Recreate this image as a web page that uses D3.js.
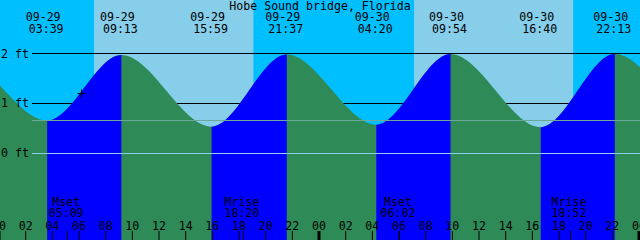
<!DOCTYPE html>
<html>
<head>
<meta charset="utf-8">
<script src="https://cdn.jsdelivr.net/npm/d3@7"></script>
<style>
  body { margin: 0; background: #fff; }
  svg { display: block; }
  text { font-family: "DejaVu Sans Mono", monospace; font-size: 11.6px; fill: #000; }
</style>
</head>
<body>
<div id="root"></div>
<script>
// tide extremes (the first two and last two are off-screen estimates so the curve runs to the edges)
const tideStamps = ["09-28 15:20", "09-28 20:55", "09-29 03:39", "09-29 09:13", "09-29 15:59", "09-29 21:37",
                    "09-30 04:20", "09-30 09:54", "09-30 16:40", "09-30 22:13", "10-01 04:55", "10-01 10:30"];
const tideHeights = [0.55, 1.95, 0.64, 1.96, 0.52, 1.97, 0.56, 1.98, 0.51, 1.98, 0.62, 1.98];

// sun up periods
const sunRise = ["09-29 07:10", "09-30 07:10"];
const sunSet = ["09-29 19:07", "09-30 19:06"];

// moon events
const moonNames = ["Mset", "Mrise", "Mset", "Mrise"];
const moonStamps = ["09-29 05:09", "09-29 18:20", "09-30 06:02", "09-30 18:52"];

// y grid
const ftLevels = [2, 1, 0];
const markLevel = 0.65;

// now marker
const nowStamp = "09-29 06:11";
const nowHeight = 1.2;

const title = "Hobe Sound bridge, Florida";

const w = 640;
const h = 240;
const parse = d3.utcParse("%m-%d %H:%M");
const tides = tideStamps.map((s, i) => ({ stamp: s, t: parse(s), v: tideHeights[i] }));

const x = d3.scaleUtc()
    .domain([parse("09-29 00:00"), parse("10-01 00:00")])
    .range([-1.5, 638.5]);

const y = d3.scaleLinear()
    .domain([0, 2])
    .range([152.5, 53]);

const svg = d3.select("#root")
    .append("svg")
    .attr("width", w)
    .attr("height", h);

// night background, then day bands
svg.append("rect")
    .attr("width", w)
    .attr("height", h)
    .attr("fill", "#00bfff");

svg.selectAll(".day")
    .data(sunRise)
    .enter()
    .append("rect")
    .attr("class", "day")
    .attr("x", (d, i) => x(parse(d)))
    .attr("y", 0)
    .attr("width", (d, i) => x(parse(sunSet[i])) - x(parse(d)))
    .attr("height", h)
    .attr("fill", "#87ceeb");

// black level lines sit behind the water
svg.selectAll(".level")
    .data(ftLevels.filter(d => d > 0))
    .enter()
    .append("line")
    .attr("x1", 32)
    .attr("x2", w)
    .attr("y1", d => Math.round(y(d)) + 0.5)
    .attr("y2", d => Math.round(y(d)) + 0.5)
    .attr("stroke", "#000")
    .attr("stroke-width", 1);

// water area
const area = d3.area()
    .x(d => x(d.t))
    .y0(h)
    .y1(d => y(d.v))
    .curve(d3.curveMonotoneX);

svg.append("clipPath")
    .attr("id", "water")
    .append("path")
    .attr("d", area(tides));

const water = svg.append("g").attr("clip-path", "url(#water)");

water.append("rect")
    .attr("width", w)
    .attr("height", h)
    .attr("fill", "#2e8b57");

// rising tide: from each low to the next high
const rising = tides.slice(0, -1)
    .map((d, i) => [d, tides[i + 1]])
    .filter(p => p[1].v > p[0].v);

water.selectAll(".rise")
    .data(rising)
    .enter()
    .append("rect")
    .attr("x", d => x(d[0].t))
    .attr("y", 0)
    .attr("width", d => x(d[1].t) - x(d[0].t))
    .attr("height", h)
    .attr("fill", "#0000ff");

// lines drawn over the water
svg.append("line")
    .attr("x1", 32).attr("x2", w)
    .attr("y1", Math.round(y(markLevel)) + 0.5)
    .attr("y2", Math.round(y(markLevel)) + 0.5)
    .attr("stroke", "#6ca89a");

svg.append("line")
    .attr("x1", 32).attr("x2", w)
    .attr("y1", Math.round(y(0)) + 0.5)
    .attr("y2", Math.round(y(0)) + 0.5)
    .attr("stroke", "#8ccfe8");

// ft labels
svg.selectAll(".ft")
    .data(ftLevels)
    .enter()
    .append("text")
    .attr("x", 1)
    .attr("y", d => y(d) + 4.5)
    .text(d => d + " ft");

// now marker
const nx = Math.round(x(parse(nowStamp))) + 0.5;
const ny = Math.round(y(nowHeight)) + 0.5;
svg.append("path")
    .attr("d", `M${nx - 4},${ny}H${nx + 4}M${nx},${ny - 4}V${ny + 4}`)
    .attr("stroke", "#000");

// title
svg.append("text")
    .attr("x", w / 2)
    .attr("y", 10)
    .attr("text-anchor", "middle")
    .text(title);

// tide labels
const shown = tides.filter(d => d.t >= x.domain()[0] && d.t <= x.domain()[1]);
svg.selectAll(".tdate")
    .data(shown)
    .enter()
    .append("text")
    .attr("x", d => x(d.t) - 4)
    .attr("y", 21)
    .attr("text-anchor", "middle")
    .text(d => d.stamp.slice(0, 5));

svg.selectAll(".ttime")
    .data(shown)
    .enter()
    .append("text")
    .attr("x", d => x(d.t) - 1)
    .attr("y", 33)
    .attr("text-anchor", "middle")
    .text(d => d.stamp.slice(6));

// moon labels
svg.selectAll(".mname")
    .data(moonStamps)
    .enter()
    .append("text")
    .attr("x", d => x(parse(d)) - 1)
    .attr("y", 206)
    .attr("text-anchor", "middle")
    .text((d, i) => moonNames[i]);

svg.selectAll(".mtime")
    .data(moonStamps)
    .enter()
    .append("text")
    .attr("x", d => x(parse(d)) - 1)
    .attr("y", 217)
    .attr("text-anchor", "middle")
    .text(d => d.slice(6));

// hour axis along the bottom
const hourTicks = d3.utcHour.every(2).range(x.domain()[0], d3.utcHour.offset(x.domain()[1], 1));
const axis = d3.axisTop(x)
    .tickValues(hourTicks)
    .tickFormat(d3.utcFormat("%H"))
    .tickSize(9)
    .tickPadding(1);

const gAxis = svg.append("g")
    .attr("transform", "translate(0," + h + ")")
    .call(axis);
gAxis.select(".domain").remove();
gAxis.selectAll("text")
    .attr("fill", "#000")
    .style("font-family", "DejaVu Sans Mono, monospace")
    .style("font-size", "11.6px");
gAxis.selectAll(".tick line")
    .attr("stroke", "#000")
    .attr("stroke-width", d => d.getUTCHours() === 0 ? 3 : 1);

// moon ticks
svg.selectAll(".mtick")
    .data(moonStamps)
    .enter()
    .append("line")
    .attr("x1", d => Math.round(x(parse(d))) + 0.5)
    .attr("x2", d => Math.round(x(parse(d))) + 0.5)
    .attr("y1", h - 9)
    .attr("y2", h)
    .attr("stroke", "#000");
</script>
</body>
</html>
